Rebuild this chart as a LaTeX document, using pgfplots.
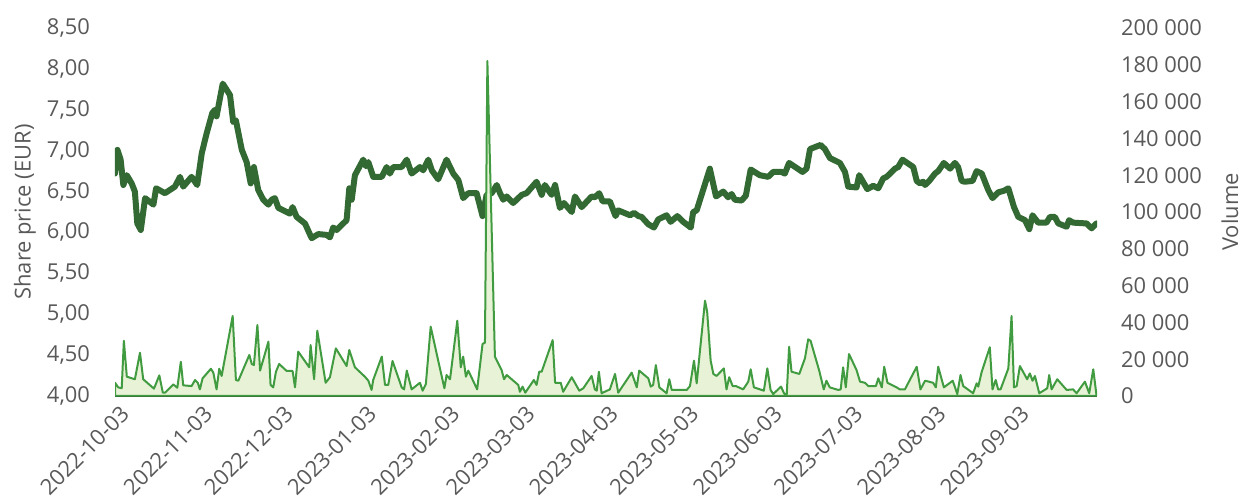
\documentclass[border=0pt]{standalone}
\usepackage{pgfplots}
\pgfplotsset{compat=1.18}
\usepackage{pgfplotstable}
\usepackage{fontspec}
\setmainfont{Open Sans}
\definecolor{pricegreen}{HTML}{336933}
\definecolor{volgreen}{HTML}{419B41}
\definecolor{volfill}{HTML}{E8F2D6}
\definecolor{txt}{HTML}{595959}
\definecolor{axgreen}{HTML}{3A7A3A}

\pgfplotstableread{
day price
0 6.72
0.9 7.01
2.1 6.89
3.1 6.58
4.4 6.70
6.2 6.60
7.4 6.50
8.3 6.11
9.6 6.03
11.2 6.42
14.3 6.34
15.3 6.54
18.6 6.48
22.3 6.56
24.2 6.68
25.4 6.56
28.5 6.68
30.6 6.58
32.3 6.97
34.1 7.21
36.2 7.46
37.2 7.50
37.8 7.42
40.1 7.82
42.8 7.68
44.0 7.35
45.0 7.37
47.2 7.01
49.0 6.86
50.5 6.60
51.7 6.80
53.3 6.52
55.2 6.40
57.1 6.34
58.3 6.40
59.5 6.42
60.8 6.30
63.9 6.25
65.1 6.23
66.1 6.31
67.6 6.19
70.7 6.11
73.2 5.93
75.7 5.98
78.8 5.97
80.0 5.94
81.2 6.06
82.5 6.03
86.2 6.15
87.2 6.54
88.1 6.40
89.3 6.70
92.4 6.89
93.4 6.81
94.3 6.86
96.1 6.68
99.3 6.68
101.1 6.80
102.3 6.72
103.6 6.80
106.7 6.80
108.6 6.89
110.4 6.72
113.5 6.80
114.7 6.76
116.6 6.89
117.9 6.76
120.3 6.65
123.4 6.89
125.9 6.72
127.8 6.64
129.6 6.42
131.5 6.48
134.6 6.48
136.8 6.20
138.3 6.46
140.2 6.48
142.1 6.58
143.3 6.48
144.5 6.40
145.8 6.44
148.2 6.36
151.4 6.46
153.2 6.48
156.9 6.62
158.8 6.46
160.0 6.58
162.5 6.46
163.8 6.58
165.6 6.30
167.1 6.36
170.0 6.25
171.2 6.44
173.7 6.31
177.4 6.44
178.6 6.43
180.2 6.48
181.5 6.38
184.2 6.38
186.3 6.20
187.3 6.27
191.7 6.21
193.2 6.24
194.8 6.20
196.0 6.19
198.5 6.10
200.6 6.06
202.2 6.16
205.3 6.21
206.8 6.13
209.3 6.20
211.5 6.13
214.3 6.06
215.2 6.25
216.5 6.27
221.4 6.78
223.7 6.44
226.4 6.50
228.2 6.43
229.5 6.47
230.7 6.40
233.2 6.39
234.8 6.45
236.6 6.77
240.0 6.70
243.1 6.68
245.0 6.74
248.1 6.74
249.3 6.72
250.9 6.85
255.9 6.74
257.4 6.78
258.7 7.02
262.6 7.07
264.2 7.02
266.1 6.91
269.8 6.85
271.7 6.74
272.9 6.56
276.0 6.55
277.0 6.70
280.0 6.53
282.2 6.57
284.1 6.54
285.9 6.66
287.2 6.68
290.3 6.78
291.5 6.80
293.1 6.89
297.1 6.80
298.4 6.63
299.6 6.60
300.8 6.62
301.5 6.58
303.3 6.64
305.2 6.72
306.4 6.75
308.5 6.85
310.8 6.78
312.6 6.85
313.8 6.80
315.1 6.63
316.3 6.62
319.2 6.63
320.7 6.75
322.6 6.72
325.0 6.52
326.6 6.42
328.7 6.49
330.9 6.51
332.5 6.54
334.6 6.31
336.2 6.19
338.7 6.15
340.3 6.04
341.5 6.21
343.6 6.12
346.7 6.12
348.0 6.19
349.8 6.19
351.1 6.11
354.2 6.07
355.1 6.15
356.6 6.12
361.6 6.11
363.5 6.05
365.3 6.11
}\pricetable

\pgfplotstableread{
day vol
0 7200
1.2 4700
2.5 4200
3.3 30000
4.4 10500
7.4 9100
9.3 23500
10.5 9100
14.5 4000
16.5 11200
17.8 1800
18.6 1800
21.7 6300
23.2 4500
24.5 18600
25.4 5800
28.5 5400
29.8 8700
30.8 7200
31.6 3600
32.6 9600
35.7 14800
36.6 12700
37.8 3600
38.8 14800
39.7 10900
43.8 43500
45.0 8700
45.9 8300
50.0 22300
50.9 17400
51.7 16800
53.0 38600
54.0 13800
57.1 29500
57.9 6000
58.9 4700
59.9 13200
61.1 17400
63.9 13600
66.1 13600
67.0 4700
68.2 24100
72.3 15600
72.8 27700
74.1 9100
75.3 35500
78.4 7200
80.0 10200
82.2 25900
86.2 16300
87.2 25000
89.3 15600
93.0 10500
94.3 8300
95.5 3300
96.1 8700
99.3 21400
100.5 6000
101.7 6000
103.3 19000
106.7 4700
107.6 3600
108.6 13800
110.4 3600
113.5 7200
114.5 2900
115.7 6500
117.5 37700
120.3 19200
122.6 4200
123.4 11400
124.7 9100
127.4 40900
128.7 15600
129.6 21400
130.6 10500
131.5 13800
134.8 3600
136.8 28300
137.7 29000
138.6 182000
141.4 21400
143.9 14100
144.8 9100
145.8 11400
150.1 6000
150.7 2300
151.7 5100
152.7 1800
155.9 8700
156.9 6000
157.9 13200
158.8 13200
162.9 30400
163.8 7200
165.9 7200
166.8 2300
170.0 10200
172.8 2900
174.3 4200
177.4 10900
178.6 3600
179.3 2900
180.1 13200
181.1 1500
184.2 3600
186.1 12000
187.3 1800
192.3 12700
194.2 4700
195.1 13800
198.5 9600
199.4 5100
200.3 6000
201.3 16800
202.6 4700
205.3 1500
206.3 9100
207.2 3300
212.8 3300
214.0 5400
215.5 19200
216.5 6900
219.6 51800
220.4 45800
221.7 19200
222.7 12000
223.9 10900
226.6 15000
227.6 3600
228.6 10200
229.9 5400
231.1 5400
233.8 3600
235.7 7800
236.6 14500
237.8 4700
241.5 2900
242.8 15000
244.0 3300
245.0 1100
247.9 5100
249.0 1500
250.0 500
250.9 26800
251.8 13200
254.7 12000
256.8 20500
258.0 30800
258.9 30000
262.1 13800
263.8 3600
264.8 8300
266.0 4700
269.2 3300
270.1 3600
271.0 15600
272.0 4700
273.2 22800
276.0 14100
277.3 7800
279.1 7200
280.4 5400
283.2 5400
284.1 9600
285.4 4700
286.3 15900
287.5 7200
290.9 4700
292.1 3600
294.0 3600
298.4 15900
299.8 3600
301.5 8300
304.5 7200
305.5 4700
306.4 15900
308.5 4700
311.8 8300
313.5 1100
314.7 11400
315.7 5400
319.4 1500
320.7 6900
321.3 5100
322.6 13200
325.6 26500
326.6 3600
327.8 8700
328.7 3600
329.6 3600
332.5 15000
333.7 43500
334.6 4700
335.6 5400
336.8 16300
339.5 9100
340.5 12300
341.5 8300
342.4 10900
344.0 1500
347.0 4200
347.7 11400
348.6 3600
350.7 9100
354.2 3300
356.6 3600
357.9 1500
361.0 7800
362.6 1500
364.1 14500
365.3 500
}\voltable

\begin{document}
\begin{tikzpicture}
\pgfplotsset{
  common/.style={
    scale only axis, width=491bp, height=184bp,
    xmin=0, xmax=365.5,
    major tick length=0pt,
    tick label style={font=\fontsize{11}{13}\selectfont, text=txt},
    label style={font=\fontsize{11}{13}\selectfont, text=txt},
    /pgf/number format/assume math mode=true,
  }
}
\begin{axis}[common,
  name=ax1,
  ymin=4, ymax=8.5,
  axis x line*=bottom, axis y line*=left,
  y axis line style={draw=none},
  x axis line style={draw=axgreen, line width=1bp, -},
  ytick={4,4.5,5,5.5,6,6.5,7,7.5,8,8.5},
  yticklabel style={xshift=-9bp, /pgf/number format/.cd, fixed, fixed zerofill, precision=2, use comma},
  xtick={0,31,61,92,123,151,182,212,243,273,304,335},
  xticklabels={2022-10-03,2022-11-03,2022-12-03,2023-01-03,2023-02-03,2023-03-03,2023-04-03,2023-05-03,2023-06-03,2023-07-03,2023-08-03,2023-09-03},
  xticklabel style={rotate=45, anchor=north east, xshift=2bp, yshift=-1bp},
  ylabel={Share price (EUR)},
  ylabel style={at={(axis description cs:-0.0916,0.5)}, anchor=center},
]
\addplot[draw=pricegreen, line width=3bp, line join=round, line cap=round] table[x=day, y=price] {\pricetable};
\end{axis}
\begin{axis}[common,
  ymin=0, ymax=200000,
  axis x line=none, axis y line*=right,
  y axis line style={draw=none},
  scaled y ticks=false,
  ytick={0,20000,40000,60000,80000,100000,120000,140000,160000,180000,200000},
  yticklabel style={xshift=8.5bp, /pgf/number format/.cd, fixed, 1000 sep={\ }},
  ylabel={Volume},
  ylabel style={at={(axis description cs:1.1354,0.5)}, anchor=center},
]
\addplot[draw=volgreen, line width=1bp, line join=round, fill=volfill] table[x=day, y=vol] {\voltable} \closedcycle;
\end{axis}
\pgfresetboundingbox
\path[use as bounding box] ([shift={(-57.5bp,-53.5bp)}]ax1.south west) rectangle ([shift={(72bp,14bp)}]ax1.north east);
\end{tikzpicture}
\end{document}
